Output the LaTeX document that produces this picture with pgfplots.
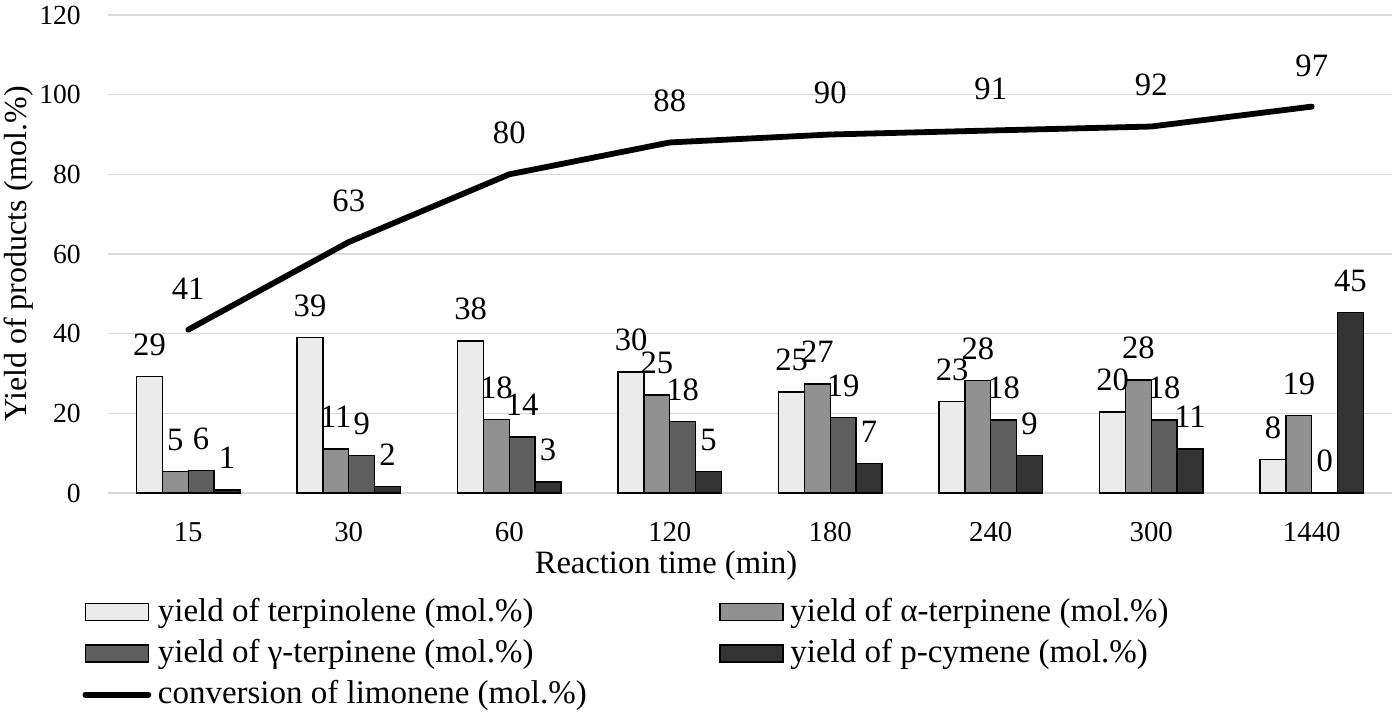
\documentclass[border=0pt]{standalone}
\usepackage{fontspec}
\setmainfont{Liberation Serif}
\usepackage{pgfplots}
\pgfplotsset{compat=1.18}

\definecolor{cTerp}{HTML}{EBEBEB}
\definecolor{cAlpha}{HTML}{919191}
\definecolor{cGamma}{HTML}{5E5E5E}
\definecolor{cCym}{HTML}{333333}
\definecolor{cGrid}{HTML}{D9D9D9}

\newcommand\mainfs{\fontsize{16.3}{19}\selectfont}
\newcommand\tickfs{\fontsize{14.4}{17}\selectfont}

\pgfplotsset{
  barlabel/.style={
    nodes near coords={\pgfmathprintnumber[fixed,precision=0]{\pgfplotspointmeta}},
    every node near coord/.append style={anchor=base, xshift=#1, yshift=10.6pt, text=black, font=\mainfs},
  },
  barleg/.style={legend image code/.code={\draw[##1, line width=0.7pt] (0pt,-4.25pt) rectangle (31.5pt,4.25pt);}},
  lineleg/.style={legend image code/.code={\draw[##1, line cap=round] (0pt,0pt) -- (31.5pt,0pt);}},
}

\begin{document}
\mainfs
\begin{tikzpicture}
\begin{axis}[
  scale only axis,
  width=642pt, height=239pt,
  xmin=-0.5, xmax=7.5,
  ymin=0, ymax=120,
  xtick={0,1,2,3,4,5,6,7},
  xticklabels={15,30,60,120,180,240,300,1440},
  ytick={0,20,...,120},
  /pgf/number format/assume math mode=true,
  axis line style={draw=none},
  tick style={draw=none},
  ymajorgrids,
  major grid style={cGrid, line width=0.75pt},
  tick label style={font=\tickfs},
  xticklabel style={anchor=base, yshift=-24.3pt},
  yticklabel style={xshift=-8pt, font=\fontsize{13.8}{17}\selectfont},
  xlabel={Reaction time (min)},
  xlabel style={at={(axis description cs:0.4346,0)}, anchor=base, yshift=-40pt, font=\mainfs},
  ylabel={Yield of products (mol.\%)},
  ylabel style={at={(axis description cs:-0.0695,0.5)}, anchor=center, font=\fontsize{16}{19}\selectfont},
  legend columns=2,
  legend cell align=left,
  legend style={
    at={(axis description cs:-0.0202,-0.205)}, anchor=north west,
    draw=none, fill=none, inner sep=0pt,
    row sep=0pt,
    /tikz/every even column/.append style={column sep=63pt},
    nodes={inner sep=3.3pt},
    font=\fontsize{16.5}{19}\selectfont,
  },
]
\addplot[ybar, bar width=12.9pt, bar shift=-19.35pt, fill=cTerp, draw=black, line width=0.7pt, barlabel=-19.35pt, barleg]
  coordinates {(0,29.2) (1,39.1) (2,38.2) (3,30.4) (4,25.4) (5,22.9) (6,20.3) (7,8.4)};
\addplot[ybar, bar width=12.9pt, bar shift=-6.45pt, fill=cAlpha, draw=black, line width=0.7pt, barlabel=-6.45pt, barleg]
  coordinates {(0,5.4) (1,11.0) (2,18.4) (3,24.6) (4,27.4) (5,28.2) (6,28.4) (7,19.4)};
\addplot[ybar, bar width=12.9pt, bar shift=6.45pt, fill=cGamma, draw=black, line width=0.7pt, barlabel=6.45pt, barleg]
  coordinates {(0,5.6) (1,9.4) (2,14.1) (3,17.9) (4,18.9) (5,18.3) (6,18.3) (7,0)};
\addplot[ybar, bar width=12.9pt, bar shift=19.35pt, fill=cCym, draw=black, line width=0.7pt, barlabel=19.35pt, barleg]
  coordinates {(0,0.75) (1,1.7) (2,2.8) (3,5.4) (4,7.4) (5,9.4) (6,11.0) (7,45.3)};
\addplot[sharp plot, black, line width=2.9pt, line join=round, line cap=round, mark=none,
  nodes near coords={\pgfmathprintnumber[fixed,precision=0]{\pgfplotspointmeta}},
  every node near coord/.append style={anchor=base, yshift=15.3pt, text=black, font=\mainfs},
  lineleg]
  coordinates {(0,41) (1,63) (2,80) (3,88) (4,90) (5,91) (6,92) (7,97)};
\legend{yield of terpinolene (mol.\%), yield of α-terpinene (mol.\%), yield of γ-terpinene (mol.\%), yield of p-cymene (mol.\%), conversion of limonene (mol.\%)}
\end{axis}
\pgfresetboundingbox
\path (-54pt,-111.5pt) rectangle (646pt,246.5pt);
\end{tikzpicture}
\end{document}
